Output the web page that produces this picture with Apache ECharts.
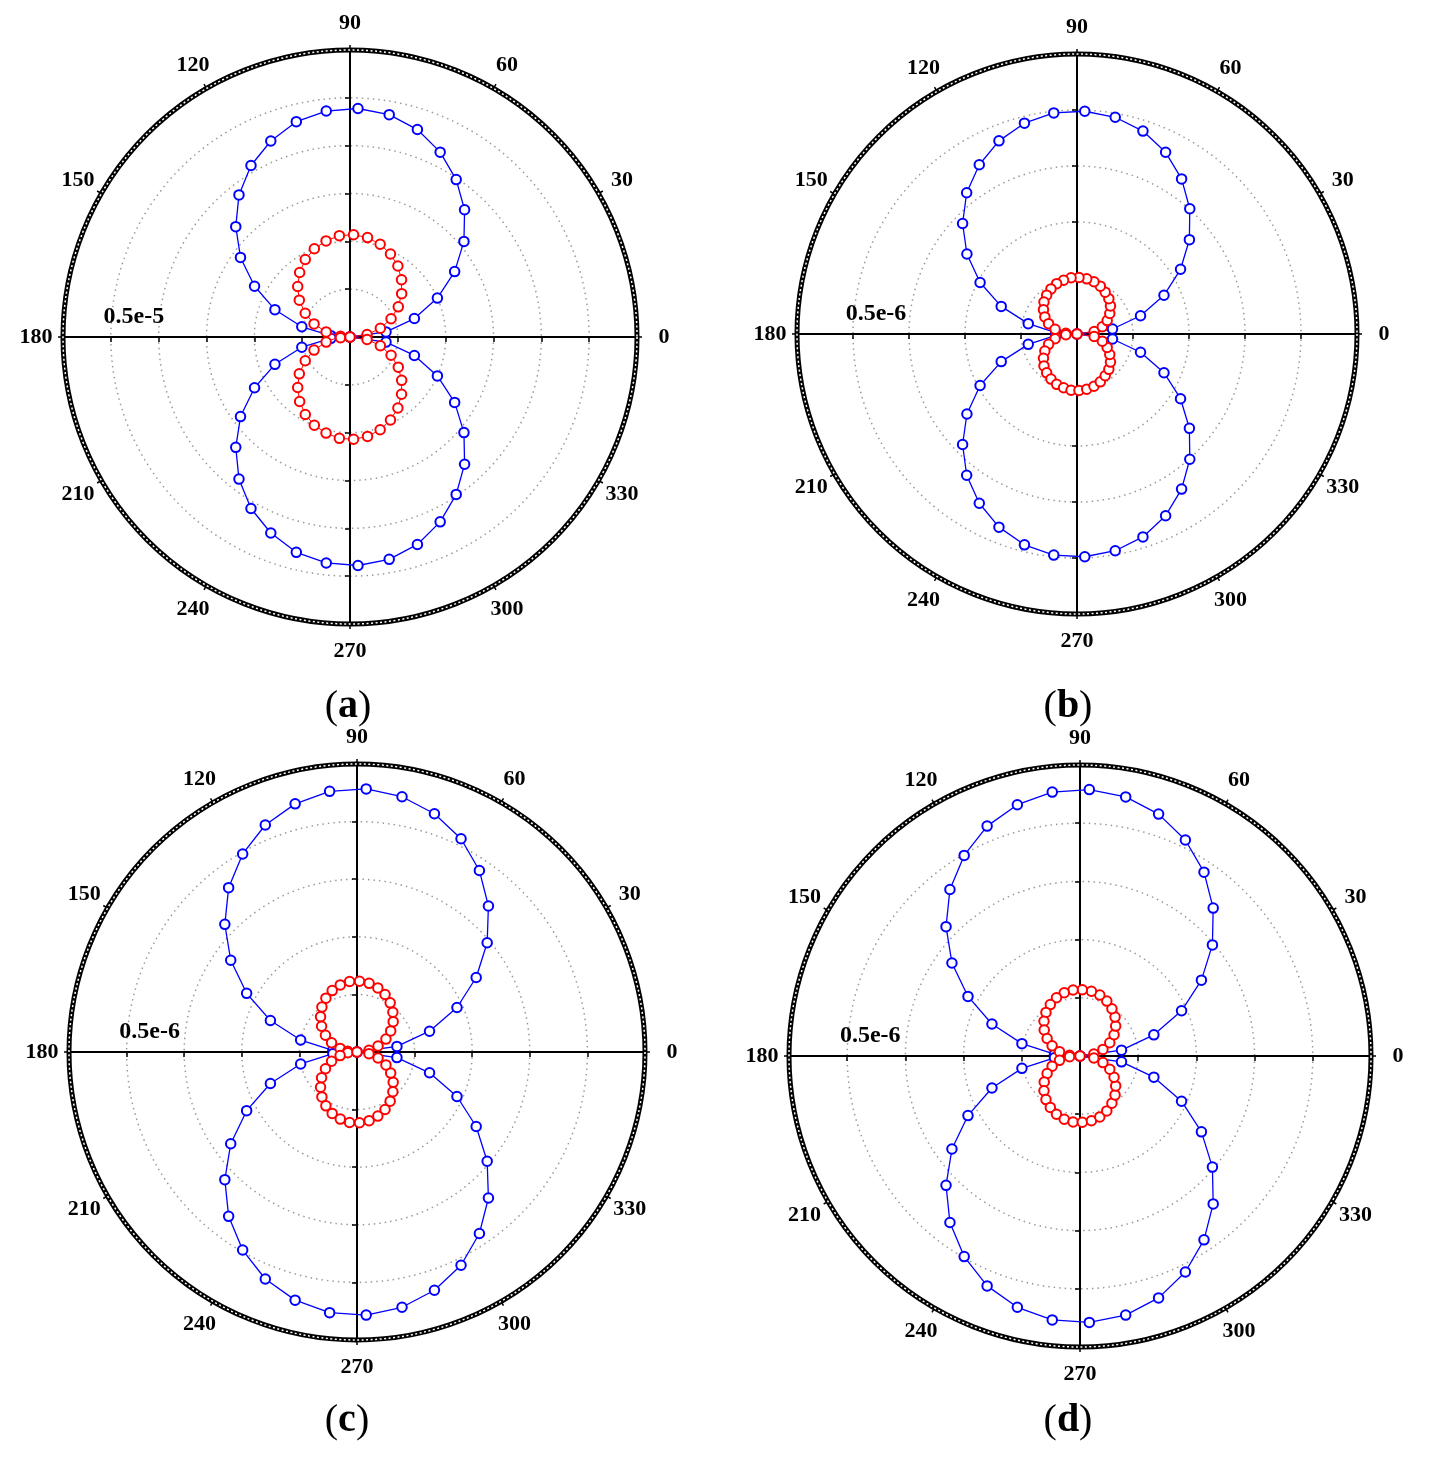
<!DOCTYPE html>
<html>
<head>
<meta charset="utf-8">
<script src="https://cdn.jsdelivr.net/npm/echarts@6/dist/echarts.min.js"></script>
<style>
  html, body { margin: 0; padding: 0; background: #fff; }
  #chart { width: 1429px; height: 1458px; }
</style>
</head>
<body>
<div id="chart"></div>
<script>
// sample angles in degrees (one marker every 8°)
const angles = [0, 8, 16, 24, 32, 40, 48, 56, 64, 72, 80, 88, 96, 104, 112, 120, 128, 136, 144, 152, 160, 168, 176,
  184, 192, 200, 208, 216, 224, 232, 240, 248, 256, 264, 272, 280, 288, 296, 304, 312, 320, 328, 336, 344, 352]

// angle tick labels round the rim
const angleTickLabels = [0, 30, 60, 90, 120, 150, 180, 210, 240, 270, 300, 330]

// radial values in ring units: panel (a) x1e-6, panels (b)-(d) x1e-7
const blueA = [0, 0.76, 1.40, 2.00, 2.58, 3.11, 3.58, 3.97, 4.30, 4.56, 4.72, 4.78, 4.75, 4.64, 4.42, 4.14, 3.77, 3.32, 2.83, 2.26, 1.67, 1.03, 0.40,
  0.40, 1.03, 1.67, 2.26, 2.83, 3.32, 3.77, 4.14, 4.42, 4.64, 4.75, 4.78, 4.72, 4.56, 4.30, 3.97, 3.58, 3.11, 2.58, 2.00, 1.40, 0.76]
const redA = [0, 0.36, 0.66, 0.94, 1.19, 1.41, 1.61, 1.79, 1.93, 2.04, 2.11, 2.14, 2.13, 2.07, 1.99, 1.87, 1.71, 1.52, 1.31, 1.06, 0.80, 0.51, 0.20,
  0.20, 0.51, 0.80, 1.06, 1.31, 1.52, 1.71, 1.87, 1.99, 2.07, 2.13, 2.14, 2.11, 2.04, 1.93, 1.79, 1.61, 1.41, 1.19, 0.94, 0.66, 0.36]

const blueB = [0, 0.64, 1.18, 1.70, 2.18, 2.62, 3.01, 3.34, 3.61, 3.81, 3.93, 3.98, 3.97, 3.88, 3.72, 3.49, 3.20, 2.84, 2.43, 1.96, 1.44, 0.89, 0.38,
  0.38, 0.89, 1.44, 1.96, 2.43, 2.84, 3.20, 3.49, 3.72, 3.88, 3.97, 3.98, 3.93, 3.81, 3.61, 3.34, 3.01, 2.62, 2.18, 1.70, 1.18, 0.64]
const redB = [0, 0.31, 0.47, 0.59, 0.69, 0.78, 0.85, 0.90, 0.95, 0.98, 1.00, 1.01, 1.01, 0.99, 0.97, 0.93, 0.88, 0.82, 0.74, 0.65, 0.54, 0.40, 0.20,
  0.20, 0.40, 0.54, 0.65, 0.74, 0.82, 0.88, 0.93, 0.97, 0.99, 1.01, 1.01, 1.00, 0.98, 0.95, 0.90, 0.85, 0.78, 0.69, 0.59, 0.47, 0.31]

const blueC = [0, 0.70, 1.31, 1.90, 2.44, 2.95, 3.41, 3.80, 4.12, 4.35, 4.50, 4.57, 4.55, 4.44, 4.25, 3.97, 3.62, 3.19, 2.71, 2.17, 1.60, 1.00, 0.42,
  0.42, 1.00, 1.60, 2.17, 2.71, 3.19, 3.62, 3.97, 4.25, 4.44, 4.55, 4.57, 4.50, 4.35, 4.12, 3.80, 3.41, 2.95, 2.44, 1.90, 1.31, 0.70]
const redC = [0, 0.21, 0.38, 0.55, 0.69, 0.82, 0.93, 1.03, 1.11, 1.17, 1.21, 1.23, 1.23, 1.20, 1.15, 1.08, 0.99, 0.88, 0.76, 0.62, 0.47, 0.30, 0.16,
  0.16, 0.30, 0.47, 0.62, 0.76, 0.88, 0.99, 1.08, 1.15, 1.20, 1.23, 1.23, 1.21, 1.17, 1.11, 1.03, 0.93, 0.82, 0.69, 0.55, 0.38, 0.21]

const blueD = [0, 0.72, 1.32, 1.91, 2.46, 2.97, 3.42, 3.81, 4.13, 4.37, 4.52, 4.58, 4.56, 4.45, 4.26, 3.98, 3.63, 3.20, 2.72, 2.18, 1.61, 1.02, 0.44,
  0.44, 1.02, 1.61, 2.18, 2.72, 3.20, 3.63, 3.98, 4.26, 4.45, 4.56, 4.58, 4.52, 4.37, 4.13, 3.81, 3.42, 2.97, 2.46, 1.91, 1.32, 0.72]
const redD = [0, 0.24, 0.41, 0.56, 0.69, 0.80, 0.90, 0.98, 1.05, 1.10, 1.13, 1.14, 1.14, 1.12, 1.08, 1.02, 0.95, 0.86, 0.76, 0.64, 0.51, 0.36, 0.18,
  0.18, 0.36, 0.51, 0.64, 0.76, 0.86, 0.95, 1.02, 1.08, 1.12, 1.14, 1.14, 1.13, 1.10, 1.05, 0.98, 0.90, 0.80, 0.69, 0.56, 0.41, 0.24]

const panelNames = ['a', 'b', 'c', 'd']
const ringCounts = [6, 5, 5, 5]
const radiusLabels = ['0.5e-5', '0.5e-6', '0.5e-6', '0.5e-6']
const curves = [[blueA, redA], [blueB, redB], [blueC, redC], [blueD, redD]]

// page layout (px)
const panels = [
  { cx: 350, cy: 337, r: 287, capX: 348, capY: 687 },
  { cx: 1077, cy: 334, r: 280, capX: 1068, capY: 687 },
  { cx: 357, cy: 1052, r: 288, capX: 347, capY: 1401 },
  { cx: 1080, cy: 1056, r: 291, capX: 1068, capY: 1401 },
]
const LABEL_GAP = 27 // distance from rim to the centre of an angle label

const FONT = '"Liberation Serif", "Times New Roman", serif'

function toPoints(vals) {
  const pts = vals.map((v, k) => [v, angles[k]])
  pts.push([vals[0], 360]) // close the loop back to 0°
  return pts
}

const polar = [], angleAxis = [], radiusAxis = [], grid = [], xAxis = [], yAxis = [], series = [], title = []

const axisBase = (n) => ({
  type: 'value',
  min: -n,
  max: n,
  interval: 1,
  axisLine: { onZero: false, lineStyle: { color: '#000', width: 2 } },
  axisTick: { length: 5, lineStyle: { color: '#000', width: 1.5 } },
  splitLine: { show: false },
})

panels.forEach((p, i) => {
  const n = ringCounts[i]
  polar.push({ center: [p.cx, p.cy], radius: p.r })
  angleAxis.push({
    polarIndex: i,
    type: 'value',
    min: 0,
    max: 360,
    interval: 30,
    startAngle: 0,
    clockwise: false,
    axisLine: { lineStyle: { color: '#000', width: 5 } },
    axisTick: { show: true, length: 5, lineStyle: { color: '#000', width: 1.5 } },
    axisLabel: { show: false },
    splitLine: { show: false },
  })
  radiusAxis.push({
    polarIndex: i,
    type: 'value',
    min: 0,
    max: n,
    interval: 1,
    axisLine: { show: false },
    axisTick: { show: false },
    axisLabel: { show: false },
    splitLine: { show: true, lineStyle: { color: '#9a9a9a', width: 1.5, type: [1.5, 4] } },
  })

  // horizontal crosshair: a flat grid whose bottom edge is the centre line
  const gx = grid.length
  grid.push({ left: p.cx - p.r, top: p.cy - 1, width: 2 * p.r, height: 1 })
  xAxis.push(Object.assign(axisBase(n), {
    gridIndex: gx,
    position: 'bottom',
    axisLabel: {
      formatter: (v) => (v === -(n - 1) ? radiusLabels[i] : ''),
      fontFamily: FONT,
      fontWeight: 'bold',
      fontSize: 24,
      color: '#000',
      margin: -8,
      verticalAlign: 'bottom',
      padding: [0, 0, 0, 46],
    },
  }))
  yAxis.push({ gridIndex: gx, type: 'value', min: 0, max: 1, show: false })

  // vertical crosshair: a thin grid whose left edge is the centre line
  const gy = grid.length
  grid.push({ left: p.cx, top: p.cy - p.r, width: 1, height: 2 * p.r })
  xAxis.push({ gridIndex: gy, type: 'value', min: 0, max: 1, show: false })
  yAxis.push(Object.assign(axisBase(n), { gridIndex: gy, position: 'left', axisLabel: { show: false } }))

  const [blue, red] = curves[i]
  series.push({
    type: 'line',
    coordinateSystem: 'polar',
    polarIndex: i,
    data: toPoints(blue),
    lineStyle: { color: '#0000ff', width: 1.3 },
    symbol: 'emptyCircle',
    symbolSize: 9.5,
    itemStyle: { color: '#0000ff', borderWidth: 2.8 },
    z: 3,
  })
  series.push({
    type: 'line',
    coordinateSystem: 'polar',
    polarIndex: i,
    data: toPoints(red),
    lineStyle: { color: '#ff0000', width: 1 },
    symbol: 'emptyCircle',
    symbolSize: 9.5,
    itemStyle: { color: '#ff0000', borderWidth: 1.7 },
    z: 4,
  })

  // angle labels, centred just outside the rim
  const labelR = n * (p.r + LABEL_GAP) / p.r
  series.push({
    type: 'scatter',
    coordinateSystem: 'polar',
    polarIndex: i,
    clip: false,
    silent: true,
    symbolSize: 1,
    itemStyle: { color: 'rgba(255,255,255,0)', opacity: 1 },
    data: angleTickLabels.map((a) => [labelR, a]),
    label: {
      show: true,
      position: 'inside',
      formatter: (d) => String(d.value[1]),
      fontFamily: FONT,
      fontWeight: 'bold',
      fontSize: 22,
      color: '#000',
      opacity: 1,
      textBorderWidth: 0,
    },
    z: 6,
  })

  title.push({
    text: '{p|(}{b|' + panelNames[i] + '}{p|)}',
    left: p.capX,
    top: p.capY,
    textAlign: 'center',
    padding: 0,
    textStyle: {
      rich: {
        p: { fontFamily: FONT, fontSize: 40, fontWeight: 'normal', color: '#000' },
        b: { fontFamily: FONT, fontSize: 40, fontWeight: 'bold', color: '#000' },
      },
    },
  })
})

// overlay rings: white dashes inside the thick outer circle
panels.forEach((p, i) => {
  polar.push({ center: [p.cx, p.cy], radius: p.r })
  angleAxis.push({
    polarIndex: 4 + i,
    type: 'value',
    min: 0,
    max: 360,
    startAngle: 0,
    clockwise: false,
    z: 5,
    axisLine: { lineStyle: { color: '#fff', width: 1.5, type: [2, 2.5] } },
    axisTick: { show: false },
    axisLabel: { show: false },
    splitLine: { show: false },
  })
  radiusAxis.push({ polarIndex: 4 + i, type: 'value', min: 0, max: 1, show: false })
})

const chart = echarts.init(document.getElementById('chart'))
chart.setOption({
  animation: false,
  backgroundColor: '#fff',
  title,
  polar,
  angleAxis,
  radiusAxis,
  grid,
  xAxis,
  yAxis,
  series,
})
</script>
</body>
</html>
